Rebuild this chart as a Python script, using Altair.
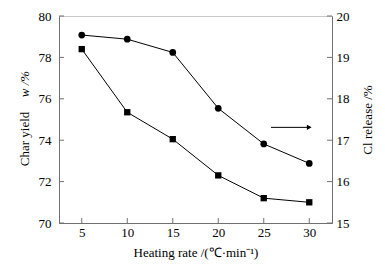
import altair as alt
import pandas as pd

rate = [5, 10, 15, 20, 25, 30]
char_yield = [78.4, 75.35, 74.05, 72.3, 71.2, 71.0]
cl_release = [19.54, 19.44, 19.12, 17.77, 16.91, 16.44]

x_ticks = [5, 10, 15, 20, 25, 30]
left_ticks = [70, 72, 74, 76, 78, 80]
right_ticks = [15, 16, 17, 18, 19, 20]

arrow_x = [25.8, 30.0]
arrow_y = [17.31, 17.31]

W, H = 273, 207
FONT = "Liberation Serif"
AX = "#707070"

df = pd.DataFrame({"rate": rate, "char": char_yield, "cl": cl_release})
arrow_df = pd.DataFrame({"x": [arrow_x[0]], "x2": [arrow_x[1]], "y": [arrow_y[0]]})
head_df = pd.DataFrame({"x": [arrow_x[1]], "y": [arrow_y[1]]})

xs = alt.Scale(domain=[2.5, 32.5], nice=False, zero=False)
ls = alt.Scale(domain=[70, 80], nice=False, zero=False)
rs = alt.Scale(domain=[15, 20], nice=False, zero=False)

common = dict(labelFont=FONT, titleFont=FONT, labelColor="black", titleColor="black",
              titleFontWeight="normal", labelFontSize=13, titleFontSize=13,
              domainColor=AX, ticks=False, grid=False)

xax = alt.Axis(values=x_ticks, labelPadding=3,
               title="Heating rate /(\u2103\u00b7min\u207b\u00b9)", titlePadding=7, **common)
X = alt.X("rate:Q", scale=xs, axis=xax)

lax = alt.Axis(values=left_ticks, labelPadding=8, title=None, **common)
rax = alt.Axis(values=right_ticks, labelPadding=4, orient="right",
               title="Cl release /%", titleAngle=270, titleBaseline="top",
               titlePadding=12, **common)

left_base = alt.Chart(df).encode(x=X, y=alt.Y("char:Q", scale=ls, axis=lax))
left_line = left_base.mark_line(color="black", strokeWidth=1)
left_pts = left_base.mark_point(shape="square", filled=True, color="black", size=40, opacity=1)

# inward ticks
xt = alt.Chart(pd.DataFrame({"t": x_ticks})).mark_rule(color=AX).encode(
    x=alt.X("t:Q", scale=xs), y=alt.value(H - 5), y2=alt.value(H))
lt = alt.Chart(pd.DataFrame({"t": left_ticks})).mark_rule(color=AX).encode(
    y=alt.Y("t:Q", scale=ls), x=alt.value(0), x2=alt.value(5))

left_title1 = alt.Chart(pd.DataFrame({"s": ["Char yield"]})).mark_text(
    angle=270, font=FONT, fontSize=13, color="black").encode(
    text="s:N", x=alt.value(-34), y=alt.value(123))
left_title2 = alt.Chart(pd.DataFrame({"s": ["w /%"]})).mark_text(
    angle=270, font=FONT, fontSize=13, color="black", fontStyle="italic").encode(
    text="s:N", x=alt.value(-34), y=alt.value(68))

left = alt.layer(left_line, left_pts, xt, lt, left_title1, left_title2)

right_base = alt.Chart(df).encode(x=X, y=alt.Y("cl:Q", scale=rs, axis=rax))
right_line = right_base.mark_line(color="black", strokeWidth=1)
right_pts = right_base.mark_point(shape="circle", filled=True, color="black", size=45, opacity=1)
rt = alt.Chart(pd.DataFrame({"t": right_ticks})).mark_rule(color=AX).encode(
    y=alt.Y("t:Q", scale=rs), x=alt.value(W - 5), x2=alt.value(W))
arrow = alt.Chart(arrow_df).mark_rule(color="black", strokeWidth=1).encode(
    x=alt.X("x:Q", scale=xs), x2="x2:Q", y=alt.Y("y:Q", scale=rs))
head = alt.Chart(head_df).mark_point(shape="triangle-right", filled=True,
                                     color="black", size=30, opacity=1).encode(
    x=alt.X("x:Q", scale=xs), y=alt.Y("y:Q", scale=rs))

right = alt.layer(right_line, right_pts, rt, arrow, head)

chart = alt.layer(left, right).resolve_scale(y="independent").properties(
    width=W, height=H,
    background="white",
    autosize=alt.AutoSizeParams(type="none"),
    padding={"left": 51, "top": 8, "right": 45, "bottom": 37},
).configure_view(stroke="#c8c8c8", strokeWidth=1)

chart.save("out.html", embed_options={"renderer": "svg", "actions": False})
